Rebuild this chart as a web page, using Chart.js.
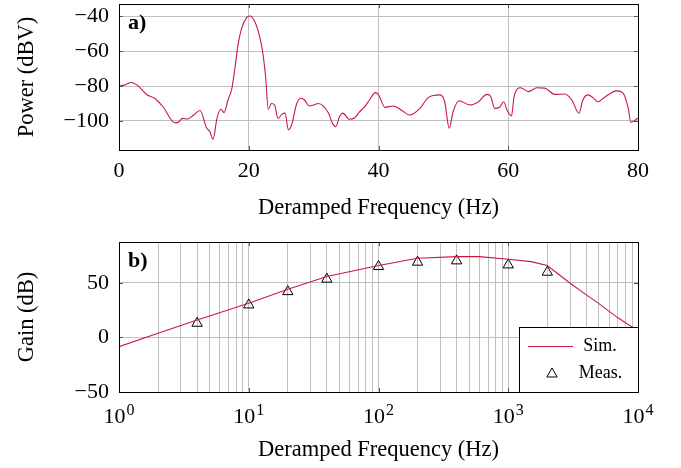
<!DOCTYPE html>
<html>
<head>
<meta charset="utf-8">
<script src="https://cdn.jsdelivr.net/npm/chart.js@4/dist/chart.umd.min.js"></script>
<style>
  html, body { margin: 0; padding: 0; background: #fff; }
  #wrap { position: relative; width: 681px; height: 468px; }
  canvas { position: absolute; left: 0; }
  #spectrum { top: 0; }
  #gain { top: 230px; }
</style>
</head>
<body>
<div id="wrap">
  <canvas id="spectrum" width="681" height="230"></canvas>
  <canvas id="gain" width="681" height="238"></canvas>
</div>
<script>
// panel a) deramped spectrum
const specFreq = [0, 0.8, 1.9, 2.8, 4.3, 5.5, 6.8, 8.6, 9.1, 9.8, 10.5, 11.5, 12.5, 13.5, 14.0, 14.5, 15.1, 15.7, 16.2, 16.8,
  17.4, 17.9, 18.3, 18.9, 19.7, 20.2, 20.8, 21.5, 22.1, 22.6, 23.0, 23.5, 24.0, 24.5, 25.1, 25.6, 26.1, 26.6, 27.4, 28.1,
  28.6, 29.3, 29.9, 30.7, 31.5, 32.3, 32.9, 33.4, 34.0, 34.5, 35.5, 36.3, 37.1, 37.9, 38.6, 39.5, 40.0, 41.0, 42.3, 43.6,
  44.8, 46.4, 47.7, 49.5, 50.2, 50.9, 51.5, 52.4, 54.1, 55.4, 56.7, 57.3, 57.9, 58.7, 59.3, 59.8, 60.5, 60.9, 61.9, 63.1,
  64.4, 65.6, 67.2, 68.7, 69.8, 70.9, 71.5, 72.3, 73.1, 73.8, 74.8, 76.7, 77.7, 78.5, 78.9, 79.8, 80];
const specPower = [-80, -79.5, -78, -79.5, -85, -87, -92, -101, -100.8, -98.5, -99, -96.6, -94, -104, -106, -110.5, -98.5, -93.3, -95.2, -88,
  -81.3, -69, -57.5, -47, -40.8, -40, -42.3, -49, -59.4, -74.7, -93.3, -90, -91, -98.5, -96.2, -95.5, -105, -102.3, -90, -87,
  -88, -91.4, -91, -90, -91.5, -95.6, -101.3, -103.3, -97.5, -95.5, -99, -98.3, -94.7, -91.8, -88, -83.8, -85, -92.2, -91.4, -94,
  -96.6, -92.8, -86.5, -85.1, -89, -104.2, -94.7, -88.4, -90.9, -89, -84.8, -86, -92.8, -92, -89, -93.7, -97.1, -86.1, -81, -83.2,
  -81, -81.2, -84.8, -84.6, -88, -95.6, -88, -85.1, -86.8, -89, -86.6, -82.8, -84.1, -92.8, -100.8, -98.9, -98.5];
const specFreqTicks = [0, 20, 40, 60, 80];
const powerTicks = [-100, -80, -60, -40];

// panel b) gain
const simFreq = [1, 2, 4, 10, 20, 40, 100, 200, 400, 600, 1000, 1500, 2000, 3000, 4000, 5000, 7000, 10000];
const simGain = [-8.4, 3.8, 16, 31.4, 44.2, 55.8, 65.9, 72.6, 74.1, 74.1, 71.7, 69.5, 65.9, 49.7, 39, 31, 18, 6];
const measFreq = [4, 10, 20, 40, 100, 200, 400, 1000, 2000];
const measGain = [13, 29.8, 42, 53.4, 65, 69, 70.2, 66.5, 59.8];
const gainTicks = [-50, 0, 50];
const decadeTicks = [1, 10, 100, 1000, 10000];
const decadeExps = ['0', '1', '2', '3', '4'];

const LINE_COLOR = 'rgb(200, 25, 65)';
const SERIF = "'Liberation Serif', 'Times New Roman', serif";
const GRID = '#c0c0c0';

function minus(v) {
  return String(v).replace('-', '\u2212');
}

function logGrid() {
  const out = [];
  for (let d = 1; d < 10000; d *= 10) {
    for (let m = 1; m < 10; m++) out.push(m * d);
  }
  out.push(10000);
  return out;
}

// stop Chart.js from reserving room for half a tick label at the ends
function noEdgePad(s) {
  s.paddingTop = 0; s.paddingBottom = 0;
  s.paddingLeft = 0; s.paddingRight = 0;
}

// black frame, inward tick marks and the panel letter
function framePlugin(letter) {
  return {
    id: 'frame',
    afterDraw(chart) {
      const { ctx, chartArea: a, scales } = chart;
      ctx.save();
      ctx.strokeStyle = '#555';
      ctx.lineWidth = 1;
      ctx.beginPath();
      scales.x.ticks.forEach(t => {
        if (scales.x.type === 'logarithmic' && !decadeTicks.includes(t.value)) return;
        const px = Math.round(scales.x.getPixelForValue(t.value)) + 0.5;
        ctx.moveTo(px, a.bottom); ctx.lineTo(px, a.bottom - 4);
        ctx.moveTo(px, a.top); ctx.lineTo(px, a.top + 4);
      });
      scales.y.ticks.forEach(t => {
        const py = Math.round(scales.y.getPixelForValue(t.value)) + 0.5;
        ctx.moveTo(a.left, py); ctx.lineTo(a.left + 4, py);
        ctx.moveTo(a.right, py); ctx.lineTo(a.right - 4, py);
      });
      ctx.stroke();
      ctx.strokeStyle = '#000';
      ctx.strokeRect(Math.round(a.left) + 0.5, Math.round(a.top) + 0.5,
        Math.round(a.right - a.left), Math.round(a.bottom - a.top));
      ctx.fillStyle = '#000';
      ctx.font = 'bold 22px ' + SERIF;
      ctx.textBaseline = 'alphabetic';
      ctx.textAlign = 'left';
      ctx.fillText(letter, a.left + 9, a.top + 25);
      ctx.restore();
    }
  };
}

// 10^n labels with a raised exponent
const decadeLabelPlugin = {
  id: 'decadeLabels',
  afterDraw(chart) {
    const { ctx, chartArea: a, scales } = chart;
    ctx.save();
    ctx.fillStyle = '#000';
    ctx.textBaseline = 'alphabetic';
    ctx.textAlign = 'left';
    decadeTicks.forEach((v, i) => {
      const x = scales.x.getPixelForValue(v);
      ctx.font = '22px ' + SERIF;
      const wBase = ctx.measureText('10').width;
      ctx.font = '16px ' + SERIF;
      const wExp = ctx.measureText(decadeExps[i]).width;
      const x0 = x - (wBase + wExp + 1) / 2;
      ctx.font = '22px ' + SERIF;
      ctx.fillText('10', x0, a.bottom + 31);
      ctx.font = '16px ' + SERIF;
      ctx.fillText(decadeExps[i], x0 + wBase + 1, a.bottom + 23);
    });
    ctx.restore();
  }
};

const legendPlugin = {
  id: 'insideLegend',
  afterDraw(chart) {
    const { ctx, chartArea: a } = chart;
    const x0 = a.right - 119, y0 = a.bottom - 65;
    ctx.save();
    ctx.fillStyle = '#fff';
    ctx.fillRect(x0, y0, 119, 65);
    ctx.strokeStyle = '#000';
    ctx.lineWidth = 1;
    ctx.strokeRect(Math.round(x0) + 0.5, Math.round(y0) + 0.5, 119, 65);
    // Sim. entry
    const sim = chart.data.datasets[0];
    ctx.strokeStyle = sim.borderColor;
    ctx.lineWidth = sim.borderWidth;
    ctx.beginPath();
    ctx.moveTo(x0 + 9, y0 + 19.5);
    ctx.lineTo(x0 + 54, y0 + 19.5);
    ctx.stroke();
    // Meas. entry
    const meas = chart.data.datasets[1];
    ctx.strokeStyle = '#000';
    ctx.lineWidth = 1;
    Chart.helpers.drawPoint(ctx, {
      pointStyle: 'triangle', radius: meas.pointRadius, borderWidth: 1
    }, x0 + 33, y0 + 47);
    ctx.fillStyle = '#000';
    ctx.font = '18px ' + SERIF;
    ctx.textAlign = 'center';
    ctx.textBaseline = 'middle';
    ctx.fillText(sim.label, x0 + 81, y0 + 19);
    ctx.fillText(meas.label, x0 + 81.5, y0 + 46);
    ctx.restore();
  }
};

Chart.defaults.font.family = SERIF;
Chart.defaults.color = '#000';

new Chart(document.getElementById('spectrum'), {
  type: 'line',
  data: {
    datasets: [{
      data: specFreq.map((f, i) => ({ x: f, y: specPower[i] })),
      borderColor: LINE_COLOR,
      borderWidth: 1.1,
      pointRadius: 0,
      cubicInterpolationMode: 'monotone'
    }]
  },
  options: {
    responsive: false,
    animation: false,
    layout: { padding: { left: 0, top: 4, right: 43, bottom: 0 } },
    plugins: { legend: { display: false }, tooltip: { enabled: false } },
    scales: {
      x: {
        type: 'linear', min: 0, max: 80,
        afterBuildTicks: s => { s.ticks = specFreqTicks.map(v => ({ value: v })); },
        afterFit: s => { s.height = 80; noEdgePad(s); },
        grid: { color: GRID, drawTicks: false },
        border: { display: false },
        ticks: { font: { size: 22 }, padding: 8, maxRotation: 0 },
        title: { display: true, text: 'Deramped Frequency (Hz)', font: { size: 22.5 }, padding: { top: 0, bottom: 8 } }
      },
      y: {
        min: -116.6, max: -33.1,
        afterBuildTicks: s => { s.ticks = powerTicks.map(v => ({ value: v })); },
        afterFit: s => { s.width = 119; noEdgePad(s); },
        grid: { color: GRID, drawTicks: false },
        border: { display: false },
        ticks: { font: { size: 22 }, padding: 10, callback: v => minus(v) },
        title: { display: true, text: 'Power (dBV)', font: { size: 22.5 }, padding: { top: 14, bottom: 0 } }
      }
    }
  },
  plugins: [framePlugin('a)')]
});

new Chart(document.getElementById('gain'), {
  type: 'line',
  data: {
    datasets: [{
      label: 'Sim.',
      data: simFreq.map((f, i) => ({ x: f, y: simGain[i] })),
      borderColor: LINE_COLOR,
      borderWidth: 1.1,
      pointRadius: 0
    }, {
      label: 'Meas.',
      data: measFreq.map((f, i) => ({ x: f, y: measGain[i] })),
      showLine: false,
      pointStyle: 'triangle',
      pointRadius: 6,
      pointBorderWidth: 1,
      pointBorderColor: '#000',
      pointBackgroundColor: 'rgba(0,0,0,0)'
    }]
  },
  options: {
    responsive: false,
    animation: false,
    layout: { padding: { left: 0, top: 12, right: 43, bottom: 0 } },
    plugins: { legend: { display: false }, tooltip: { enabled: false } },
    scales: {
      x: {
        type: 'logarithmic', min: 1, max: 10000,
        afterBuildTicks: s => { s.ticks = logGrid().map(v => ({ value: v })); },
        afterFit: s => { s.height = 76; noEdgePad(s); },
        grid: { color: GRID, drawTicks: false },
        border: { display: false },
        ticks: { font: { size: 22 }, padding: 8, maxRotation: 0, autoSkip: false, callback: () => '' },
        title: { display: true, text: 'Deramped Frequency (Hz)', font: { size: 22.5 }, padding: { top: 0, bottom: 4 } }
      },
      y: {
        min: -50, max: 87.5,
        afterBuildTicks: s => { s.ticks = gainTicks.map(v => ({ value: v })); },
        afterFit: s => { s.width = 119; noEdgePad(s); },
        grid: { color: GRID, drawTicks: false },
        border: { display: false },
        ticks: { font: { size: 22 }, padding: 10, callback: v => minus(v) },
        title: { display: true, text: 'Gain (dB)', font: { size: 22.5 }, padding: { top: 14, bottom: 0 } }
      }
    }
  },
  plugins: [framePlugin('b)'), decadeLabelPlugin, legendPlugin]
});
</script>
</body>
</html>
